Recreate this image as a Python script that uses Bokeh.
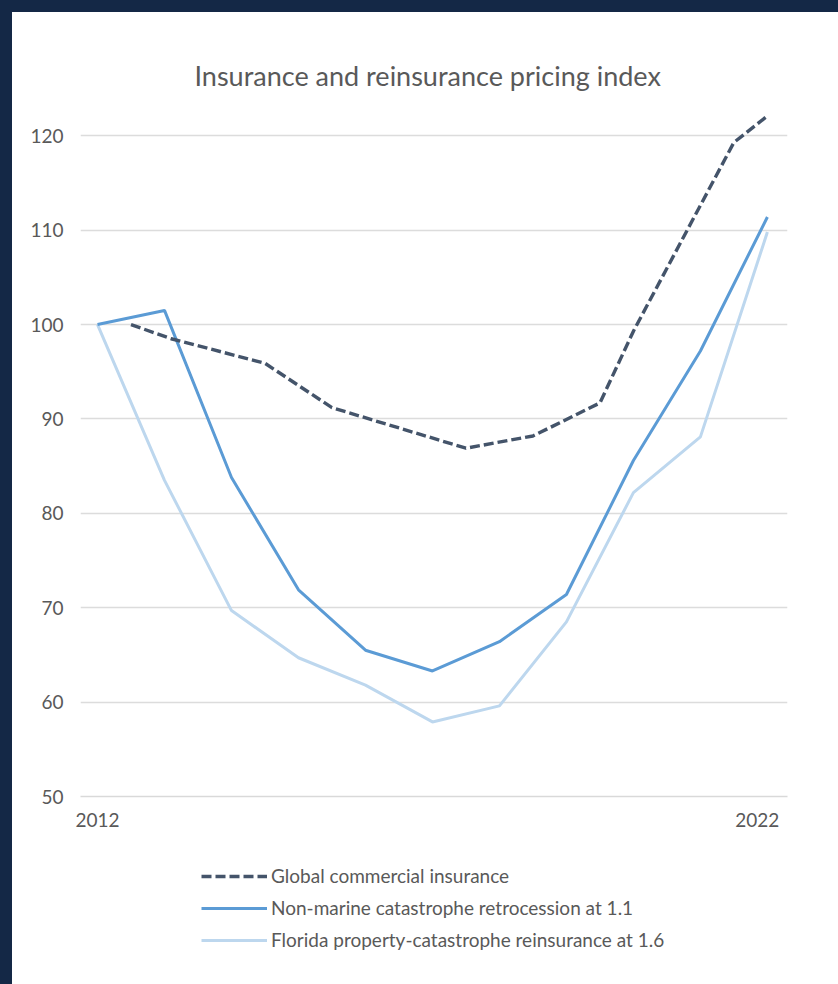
from bokeh.plotting import figure
from bokeh.embed import file_html
from bokeh.resources import INLINE
from bokeh.models import (FixedTicker, Legend, LegendItem, Range1d, Spacer, ColumnDataSource)
from bokeh.layouts import column, row

# ---- data ----
years = [2012, 2013, 2014, 2015, 2016, 2017, 2018, 2019, 2020, 2021, 2022]
retrocession = [100.0, 101.5, 83.8, 71.9, 65.5, 63.3, 66.4, 71.4, 85.6, 97.2, 111.4]
florida = [100.0, 83.5, 69.7, 64.7, 61.8, 57.9, 59.6, 68.5, 82.2, 88.1, 109.8]
commercial_t = [2012.5, 2013.1, 2014.5, 2015.5, 2017.5, 2018.5, 2019.5, 2020.0, 2021.5, 2022.0]
commercial = [100.0, 98.5, 95.9, 91.2, 86.9, 88.2, 91.7, 99.3, 119.3, 122.1]
y_ticks = [50, 60, 70, 80, 90, 100, 110, 120]
x_tick_pos = [2012, 2021.85]
x_tick_labels = {2012: "2012", 2021.85: "2022"}

title_text = "Insurance and reinsurance pricing index"
names = ["Global commercial insurance",
         "Non-marine catastrophe retrocession at 1.1",
         "Florida property-catastrophe reinsurance at 1.6"]

NAVY = "#142846"
GREY = "#595959"
FONT = "Lato"
C_COM, C_RET, C_FLA = "#44546a", "#5b9bd5", "#bdd7ee"
DASH = "10 4"

p = figure(width=826, height=824, output_backend="svg", toolbar_location=None,
           x_range=Range1d(2011.746, 2022.30), y_range=Range1d(50, 123),
           min_border_left=68, min_border_right=51, min_border_top=95,
           min_border_bottom=40, background_fill_color="white",
           border_fill_color="white", outline_line_color=None,
           title=title_text)

p.title.align = "left"
p.title.text_font = FONT
p.title.text_font_size = "27px"
p.title.text_font_style = "normal"
p.title.text_color = GREY
p.title.standoff = 32
p.title.offset = 114

src_y = ColumnDataSource(dict(x=years, r=retrocession, f=florida))
src_c = ColumnDataSource(dict(x=commercial_t, c=commercial))

p.line("x", "f", source=src_y, line_color=C_FLA, line_width=3)
p.line("x", "r", source=src_y, line_color=C_RET, line_width=3)
p.line("x", "c", source=src_c, line_color=C_COM, line_width=3.4, line_dash=DASH)

# axes
p.xaxis.ticker = FixedTicker(ticks=x_tick_pos)
p.xaxis.major_label_overrides = x_tick_labels
p.yaxis.ticker = FixedTicker(ticks=y_ticks)
for ax in (p.xaxis, p.yaxis):
    ax.major_tick_line_color = None
    ax.minor_tick_line_color = None
    ax.major_label_text_font = FONT
    ax.major_label_text_font_size = "19px"
    ax.major_label_text_color = GREY
p.yaxis.axis_line_color = None
p.yaxis.major_label_standoff = 11
p.xaxis.axis_line_color = "#d9d9d9"
p.xaxis.axis_line_width = 1.5
p.xaxis.major_label_standoff = 10

p.xgrid.grid_line_color = None
p.ygrid.ticker = FixedTicker(ticks=y_ticks)
p.ygrid.grid_line_color = "#dcdcdc"
p.ygrid.grid_line_width = 1.5

# ---- legend panel (separate figure below the chart; its lines fall outside its view) ----
lp = figure(width=826, height=148, output_backend="svg", toolbar_location=None,
            min_border=0, outline_line_color=None, background_fill_color="white",
            border_fill_color="white", x_axis_type=None, y_axis_type=None,
            x_range=Range1d(0, 1), y_range=Range1d(0, 1))
lp.xgrid.visible = False
lp.ygrid.visible = False
l_c = lp.line("x", "c", source=src_c, line_color=C_COM, line_width=3.4, line_dash=DASH)
l_r = lp.line("x", "r", source=src_y, line_color=C_RET, line_width=3)
l_f = lp.line("x", "f", source=src_y, line_color=C_FLA, line_width=3)

legend = Legend(items=[LegendItem(label=names[0], renderers=[l_c]),
                       LegendItem(label=names[1], renderers=[l_r]),
                       LegendItem(label=names[2], renderers=[l_f])],
                location=(121, 33), orientation="vertical",
                glyph_width=66, glyph_height=22, label_height=22, spacing=9,
                label_standoff=4, padding=0, margin=0,
                border_line_color=None, background_fill_alpha=0,
                label_text_font=FONT, label_text_font_size="19px",
                label_text_color=GREY)
lp.add_layout(legend, "center")

top_strip = Spacer(width=838, height=12, styles={"background-color": NAVY})
left_strip = Spacer(width=12, height=972, styles={"background-color": NAVY})
layout = column(top_strip, row(left_strip, column(p, lp, spacing=0), spacing=0), spacing=0)

open("out.html", "w").write(file_html(layout, INLINE))
